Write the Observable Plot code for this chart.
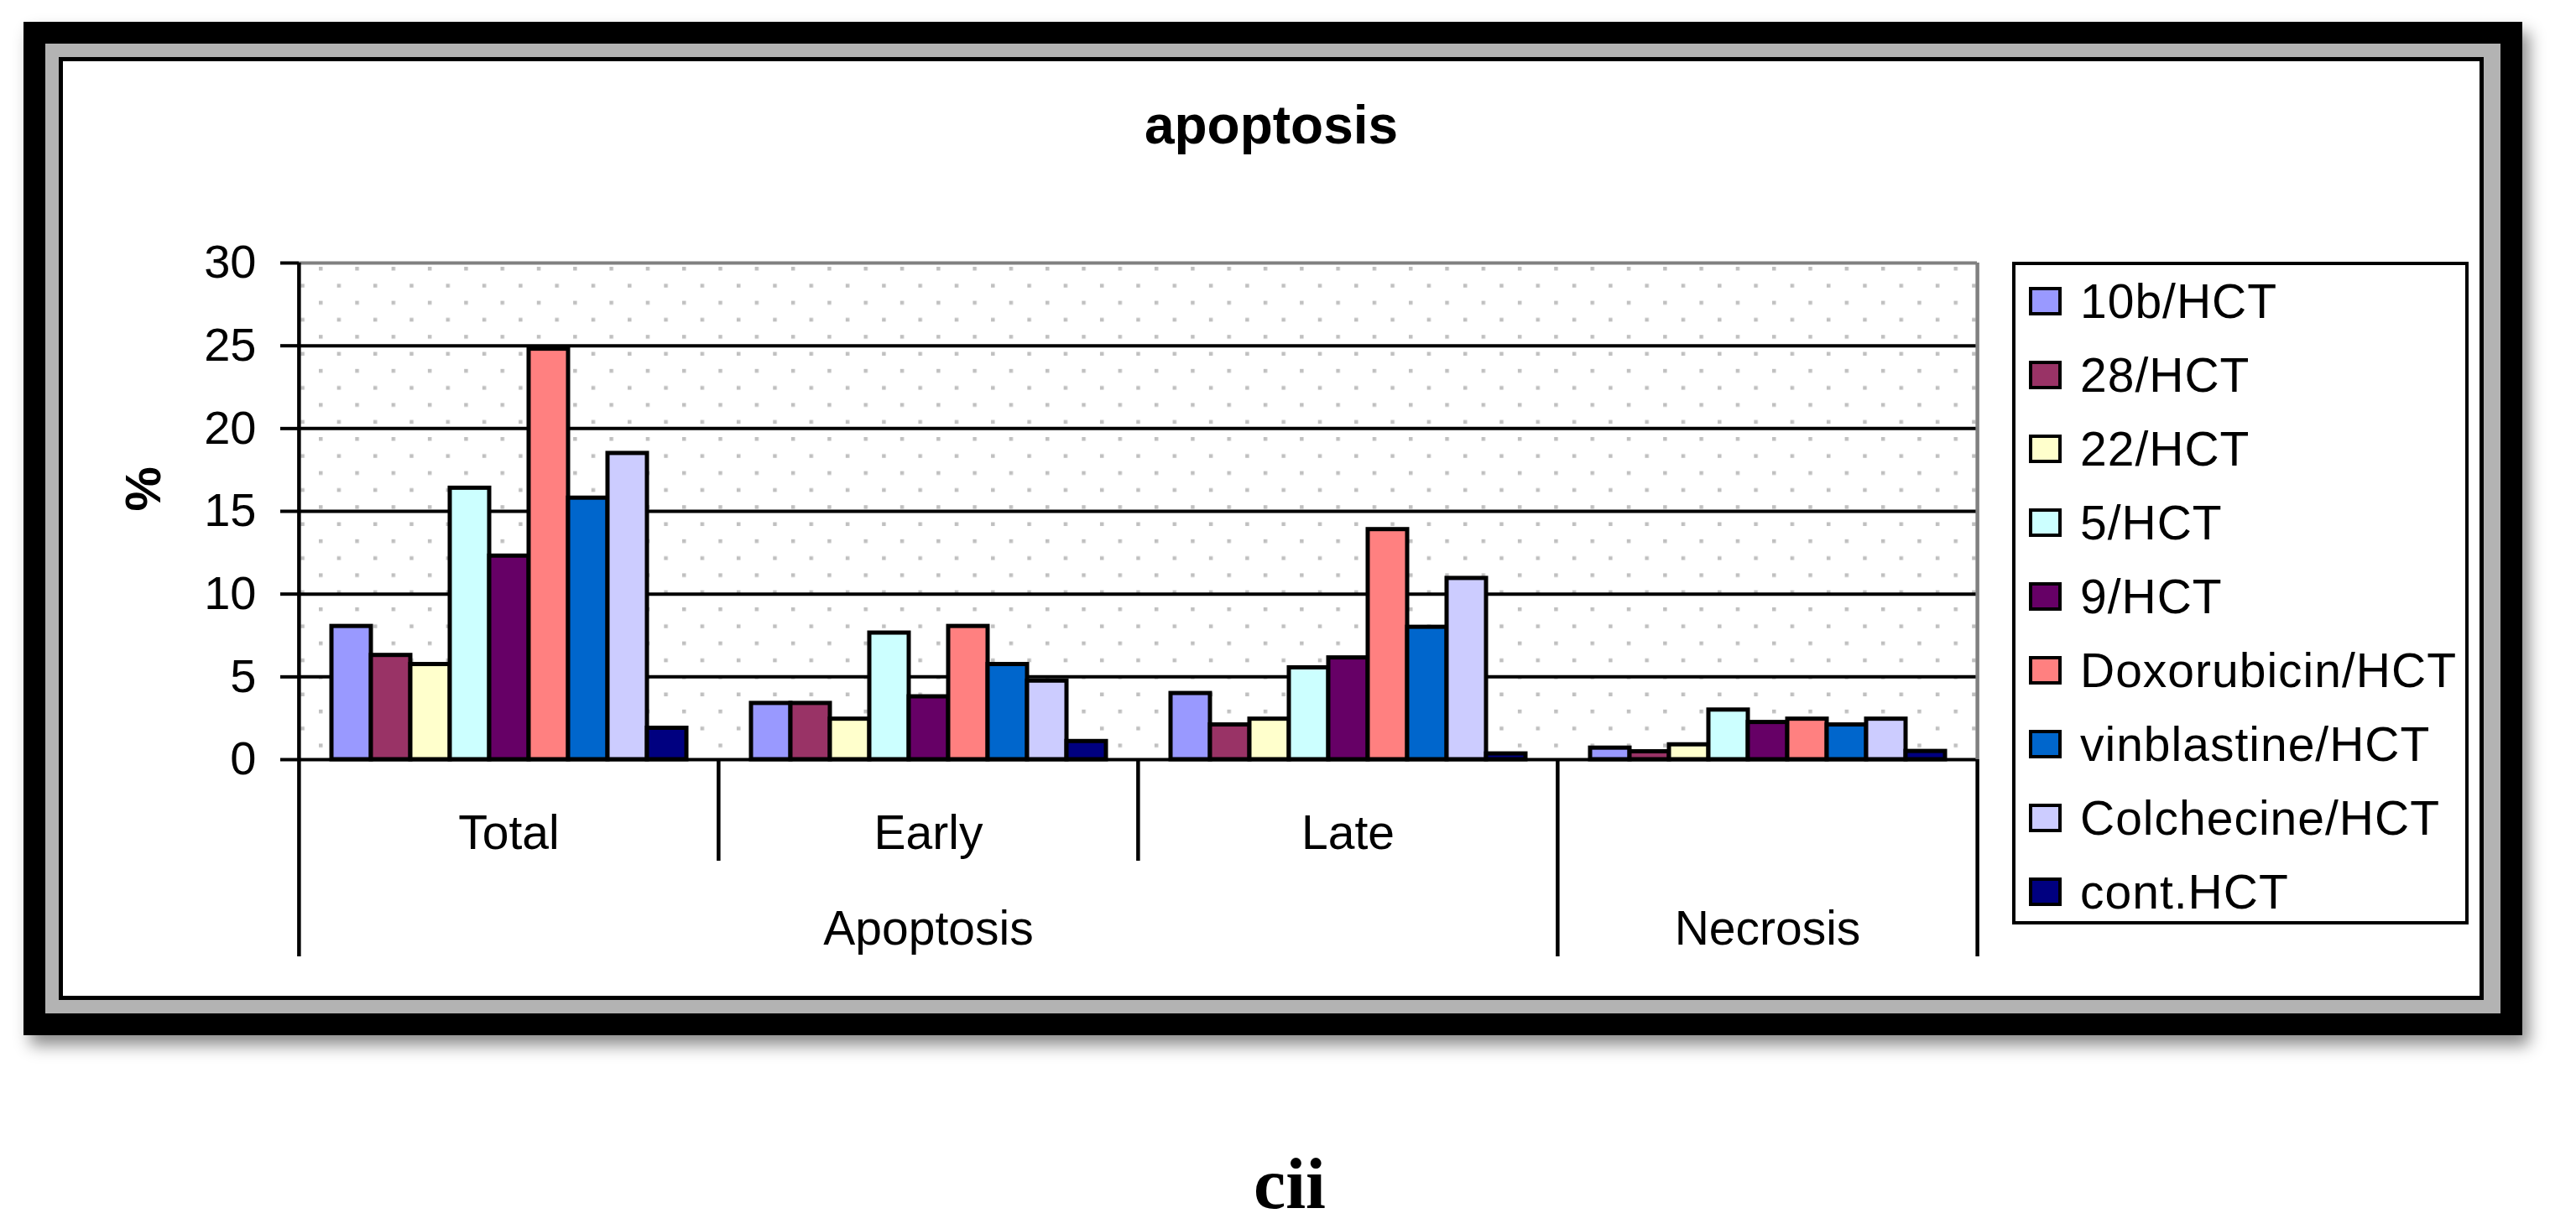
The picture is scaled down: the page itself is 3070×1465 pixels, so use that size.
<!DOCTYPE html>
<html>
<head>
<meta charset="utf-8">
<script src="https://cdn.jsdelivr.net/npm/d3@7"></script>
<script src="https://cdn.jsdelivr.net/npm/@observablehq/plot@0.6"></script>
<style>
  html, body { margin: 0; padding: 0; background: #fff; width: 3070px; height: 1465px; overflow: hidden;
    font-family: "Liberation Sans", Arial, sans-serif; color: #000; }
  #outer { position: absolute; left: 28px; top: 26px; width: 2978px; height: 1208px; box-sizing: border-box;
    border: 26px solid #000; box-shadow: 8px 12px 18px rgba(0,0,0,0.45); }
  #gray { position: absolute; left: 0; top: 0; right: 0; bottom: 0; box-sizing: border-box;
    border: 16px solid #b3b3b3; border-right-width: 20px; }
  #inner { position: absolute; left: 0; top: 0; right: 0; bottom: 0; box-sizing: border-box;
    border: 5px solid #000; background: #fff; }
  #title { position: absolute; left: 75px; width: 2880px; top: 117px; text-align: center;
    font: bold 64px/64px "Liberation Sans", Arial, sans-serif; }
  #chart { position: absolute; left: 75px; top: 73px; }
  #legendBox { position: absolute; left: 2398px; top: 312px; width: 544px; height: 790px; box-sizing: border-box;
    border: 4px solid #000; background: #fff; }
  .lrow { position: absolute; left: 2418px; height: 88px; display: flex; align-items: center; }
  .sw { width: 39px; height: 34px; box-sizing: border-box; border: 4px solid #000; flex: none; }
  .lt { margin-left: 22px; font-size: 57px; letter-spacing: 1px; white-space: nowrap; }
  #caption { position: absolute; left: 0; width: 3074px; top: 1368px; text-align: center;
    font: bold 86px/86px "Liberation Serif", "Times New Roman", serif; }
</style>
</head>
<body>
<div id="outer"><div id="gray"><div id="inner"></div></div></div>
<div id="title">apoptosis</div>
<div id="chart"></div>
<div id="legendBox"></div>
<div id="legendRows"></div>
<div id="caption">cii</div>
<script>
// ---- data ----
const series = ["10b/HCT", "28/HCT", "22/HCT", "5/HCT", "9/HCT", "Doxorubicin/HCT", "vinblastine/HCT", "Colchecine/HCT", "cont.HCT"];
const seriesColors = ["#9999ff", "#993366", "#ffffcc", "#ccffff", "#660066", "#ff8080", "#0066cc", "#ccccff", "#000080"];
const categories = ["Total", "Early", "Late", "Necrosis"];
const categoryLabels = ["Total", "Early", "Late", ""];
const categoryGroups = ["Apoptosis", "Apoptosis", "Apoptosis", "Necrosis"];
const totalValues = [8.05, 6.3, 5.75, 16.4, 12.3, 24.8, 15.8, 18.5, 1.9];
const earlyValues = [3.4, 3.4, 2.45, 7.65, 3.8, 8.05, 5.75, 4.75, 1.1];
const lateValues = [4.0, 2.1, 2.45, 5.55, 6.15, 13.9, 8.0, 10.95, 0.35];
const necrosisValues = [0.7, 0.48, 0.9, 3.0, 2.25, 2.45, 2.1, 2.45, 0.5];
const yTicks = [0, 5, 10, 15, 20, 25, 30];

const valuesByCategory = [totalValues, earlyValues, lateValues, necrosisValues];
const rows = categories.flatMap((c, i) => series.map((s, j) => ({category: c, series: s, value: valuesByCategory[i][j]})));

// group labels placed on the middle member category
const groupNames = [...new Set(categoryGroups)];
const groupLabels = groupNames.map(g => {
  const members = categories.filter((c, i) => categoryGroups[i] === g);
  return {group: g, category: members[Math.floor(members.length / 2)]};
});
const catLabelData = categories.map((c, i) => ({category: c, label: categoryLabels[i]}));
const longLeft = categories.filter((c, i) => i === 0 || categoryGroups[i] !== categoryGroups[i - 1]);
const shortLeft = categories.filter((c, i) => i > 0 && categoryGroups[i] === categoryGroups[i - 1]);
const lastCat = [categories[categories.length - 1]];
const firstCat = [categories[0]];

// ---- layout ----
const W = 2330, H = 1110;
const mL = 280, mR = 49, mT = 240, mB = 278;
const plotH = H - mT - mB;
const bw = (W - mL - mR) / categories.length;
const sepShort = 121, sepLong = 235;

const plot = Plot.plot({
  width: W, height: H,
  marginLeft: mL, marginRight: mR, marginTop: mT, marginBottom: mB,
  style: {background: "transparent", fontFamily: "'Liberation Sans', Arial, sans-serif", fontSize: "55px", color: "black", overflow: "visible"},
  fx: {domain: categories, padding: 0, axis: null, label: null},
  x: {domain: series, paddingInner: 0, paddingOuter: 0.76, axis: null},
  y: {domain: [0, 30], axis: null},
  color: {domain: series, range: seriesColors},
  marks: [
    Plot.ruleY(yTicks.filter(t => t > 0 && t < 30), {stroke: "black", strokeWidth: 4}),
    Plot.ruleY(yTicks.filter(t => t === 30), {stroke: "#808080", strokeWidth: 4}),
    Plot.barY(rows, {fx: "category", x: "series", y: "value", fill: "series", stroke: "black", strokeWidth: 5}),
    Plot.ruleY([0], {stroke: "black", strokeWidth: 4}),
    // plot-area right border (gray) and category separators
    Plot.ruleX(lastCat, {fx: d => d, x: null, dx: bw / 2, stroke: "#808080", strokeWidth: 4.5}),
    Plot.ruleX(lastCat, {fx: d => d, x: null, dx: bw / 2, insetTop: plotH, insetBottom: -sepLong, stroke: "black", strokeWidth: 4.5}),
    Plot.ruleX(firstCat, {fx: d => d, x: null, dx: -bw / 2, insetBottom: -sepLong, stroke: "black", strokeWidth: 4.5}),
    Plot.ruleX(longLeft.filter(c => c !== categories[0]), {fx: d => d, x: null, dx: -bw / 2, insetTop: plotH, insetBottom: -sepLong, stroke: "black", strokeWidth: 4.5}),
    Plot.ruleX(shortLeft, {fx: d => d, x: null, dx: -bw / 2, insetTop: plotH, insetBottom: -sepShort, stroke: "black", strokeWidth: 4.5}),
    Plot.axisY(yTicks, {anchor: "left", tickSize: 22, tickPadding: 29, fontSize: 56, strokeWidth: 4, label: null}),
    Plot.text(catLabelData, {fx: "category", text: "label", frameAnchor: "bottom", dy: 106, fontSize: 57}),
    Plot.text(groupLabels, {fx: "category", text: "group", frameAnchor: "bottom", dy: 220, fontSize: 57}),
    Plot.text(["%"], {fx: () => categories[0], text: d => d, frameAnchor: "left", dx: -185, rotate: -90, fontSize: 60, fontWeight: "bold"})
  ]
});

// dotted plot-area background
const NS = "http://www.w3.org/2000/svg";
const defs = document.createElementNS(NS, "defs");
defs.innerHTML = `<pattern id="dots" patternUnits="userSpaceOnUse" x="305" y="245" width="43.3" height="40.6">
  <rect x="0" y="0" width="4.5" height="4.5" fill="#c0c0c0"/>
  <rect x="21.65" y="20.3" width="4.5" height="4.5" fill="#c0c0c0"/></pattern>`;
const bg = document.createElementNS(NS, "rect");
bg.setAttribute("x", mL); bg.setAttribute("y", mT);
bg.setAttribute("width", W - mL - mR); bg.setAttribute("height", plotH);
bg.setAttribute("fill", "url(#dots)");
plot.insertBefore(bg, plot.firstChild);
plot.insertBefore(defs, plot.firstChild);
document.getElementById("chart").appendChild(plot);

// legend
const lr = document.getElementById("legendRows");
series.forEach((s, i) => {
  const row = document.createElement("div");
  row.className = "lrow";
  row.style.top = (315 + 88 * i) + "px";
  const sw = document.createElement("div");
  sw.className = "sw";
  sw.style.background = seriesColors[i];
  const t = document.createElement("div");
  t.className = "lt";
  t.textContent = s;
  row.appendChild(sw); row.appendChild(t);
  lr.appendChild(row);
});
</script>
</body>
</html>
